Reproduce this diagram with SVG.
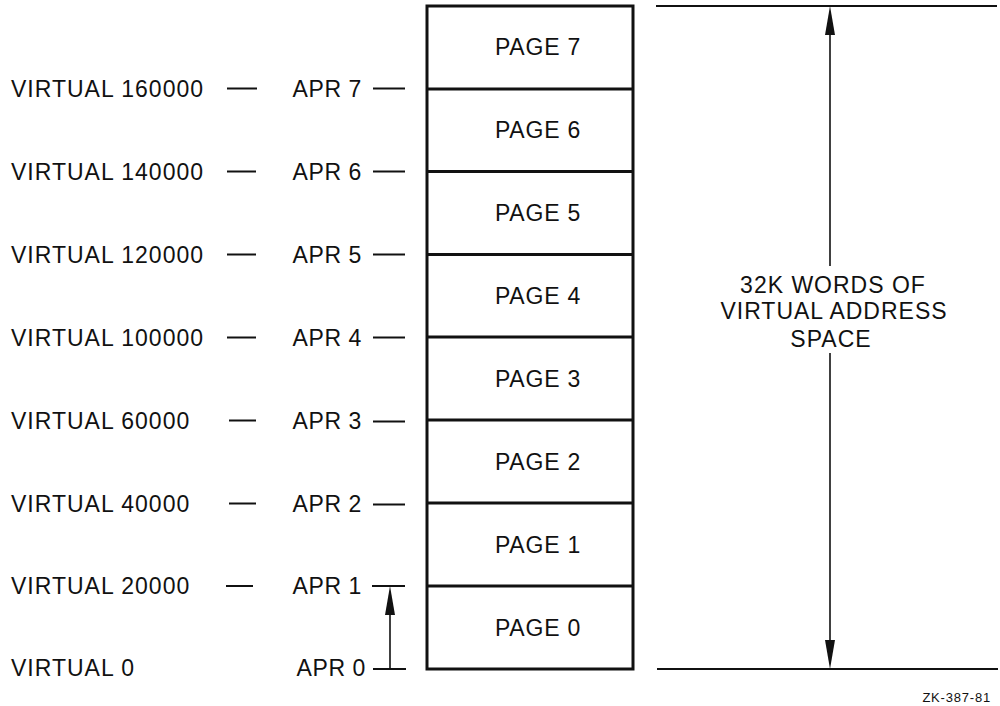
<svg xmlns="http://www.w3.org/2000/svg" width="1000" height="706" viewBox="0 0 1000 706">
<style>
text{font-family:"Liberation Sans",Arial,sans-serif;fill:#111;}
.lbl{font-size:23px;letter-spacing:1px;}
.pg{font-size:23px;letter-spacing:0.8px;text-anchor:middle;}
.apr{font-size:23px;letter-spacing:0.6px;text-anchor:end;}
.box{fill:#fff;stroke:#111;stroke-width:3;}
.div{stroke:#111;stroke-width:3;}
.ln{stroke:#111;stroke-width:2;fill:none;}
.shaft{stroke:#111;stroke-width:1.6;fill:none;}
.head{fill:#111;}
</style>
<rect width="1000" height="706" fill="#fff"/>
<g id="left-labels">
<text class="lbl" x="11" y="97">VIRTUAL 160000</text>
<text class="lbl" x="11" y="180">VIRTUAL 140000</text>
<text class="lbl" x="11" y="263">VIRTUAL 120000</text>
<text class="lbl" x="11" y="346">VIRTUAL 100000</text>
<text class="lbl" x="11" y="428.5">VIRTUAL 60000</text>
<text class="lbl" x="11" y="511.5">VIRTUAL 40000</text>
<text class="lbl" x="11" y="594">VIRTUAL 20000</text>
<text class="lbl" x="11" y="676">VIRTUAL 0</text>
</g>
<g id="apr-labels">
<text class="apr" x="362" y="97">APR 7</text>
<text class="apr" x="362" y="180">APR 6</text>
<text class="apr" x="362" y="263">APR 5</text>
<text class="apr" x="362" y="346">APR 4</text>
<text class="apr" x="362" y="429">APR 3</text>
<text class="apr" x="362" y="512">APR 2</text>
<text class="apr" x="362" y="594">APR 1</text>
<text class="apr" x="366" y="676">APR 0</text>
</g>
<g id="pages">
<rect class="box" x="427" y="6" width="206" height="663"/>
<line class="div" x1="427" y1="89" x2="633" y2="89"/>
<line class="div" x1="427" y1="171.5" x2="633" y2="171.5"/>
<line class="div" x1="427" y1="254.5" x2="633" y2="254.5"/>
<line class="div" x1="427" y1="337" x2="633" y2="337"/>
<line class="div" x1="427" y1="420" x2="633" y2="420"/>
<line class="div" x1="427" y1="503" x2="633" y2="503"/>
<line class="div" x1="427" y1="586" x2="633" y2="586"/>
<text class="pg" x="538" y="55">PAGE 7</text>
<text class="pg" x="538" y="138">PAGE 6</text>
<text class="pg" x="538" y="221">PAGE 5</text>
<text class="pg" x="538" y="304">PAGE 4</text>
<text class="pg" x="538" y="387">PAGE 3</text>
<text class="pg" x="538" y="470">PAGE 2</text>
<text class="pg" x="538" y="553">PAGE 1</text>
<text class="pg" x="538" y="636">PAGE 0</text>
</g>
<g id="connectors">
<g id="virtual-dashes">
<line class="ln" x1="227" y1="88.5" x2="257" y2="88.5"/>
<line class="ln" x1="227" y1="171.5" x2="256" y2="171.5"/>
<line class="ln" x1="227" y1="254.5" x2="256" y2="254.5"/>
<line class="ln" x1="227" y1="337.5" x2="256" y2="337.5"/>
<line class="ln" x1="229" y1="420.5" x2="256" y2="420.5"/>
<line class="ln" x1="229" y1="503.5" x2="256" y2="503.5"/>
<line class="ln" x1="226" y1="586" x2="253" y2="586"/>
</g>
<g id="apr-dashes">
<line class="ln" x1="373" y1="88.5" x2="405" y2="88.5"/>
<line class="ln" x1="373" y1="171.5" x2="405" y2="171.5"/>
<line class="ln" x1="373" y1="254.5" x2="405" y2="254.5"/>
<line class="ln" x1="373" y1="337.5" x2="405" y2="337.5"/>
<line class="ln" x1="373" y1="421.5" x2="405" y2="421.5"/>
<line class="ln" x1="373" y1="504.5" x2="405" y2="504.5"/>
<line class="ln" x1="372" y1="586" x2="405" y2="586"/>
<line class="ln" x1="373" y1="669" x2="406" y2="669"/>
</g>
<g id="page0-arrow">
<line class="shaft" x1="390" y1="669" x2="390" y2="600"/>
<polygon class="head" points="390,586 395,615 385,615"/>
</g>
<g id="span-arrow">
<line class="ln" x1="656" y1="6" x2="997" y2="6"/>
<line class="ln" x1="657" y1="669" x2="998" y2="669"/>
<line class="shaft" x1="830" y1="20" x2="830" y2="266"/>
<line class="shaft" x1="830" y1="353" x2="830" y2="655"/>
<polygon class="head" points="830,6 835,35 825,35"/>
<polygon class="head" points="830,669 835,640 825,640"/>
</g>
</g>
<g id="span-label">
<text class="lbl" x="833" y="292.5" text-anchor="middle">32K WORDS OF</text>
<text class="lbl" x="834" y="319" text-anchor="middle">VIRTUAL ADDRESS</text>
<text class="lbl" x="831" y="346.5" text-anchor="middle">SPACE</text>
</g>
<text x="991" y="702" text-anchor="end" style="font-size:13px;letter-spacing:0.8px">ZK-387-81</text>
</svg>
